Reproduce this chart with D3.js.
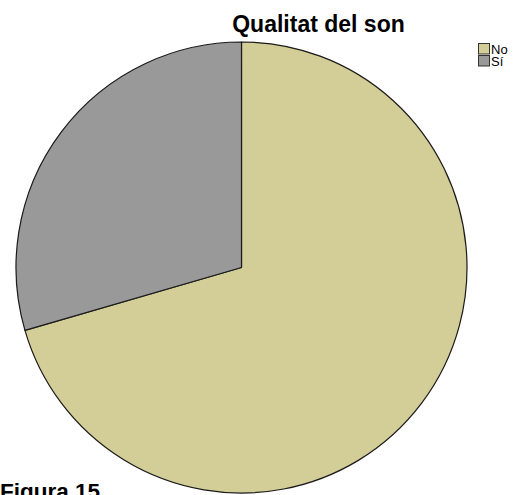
<!DOCTYPE html>
<html>
<head>
<meta charset="utf-8">
<script src="https://cdn.jsdelivr.net/npm/d3@7"></script>
<style>
html,body{margin:0;padding:0;background:#fff;overflow:hidden;}
svg{display:block;}
</style>
</head>
<body>
<script>
const categories = ["No", "Sí"];
const values = [70.5, 29.5];
const colors = ["#D3CE97", "#999999"];
const title = "Qualitat del son";
const caption = "Figura 15";

const W = 521, H = 495;
const cx = 241.5, cy = 267.5, R = 225.5;

const svg = d3.select("body").append("svg").attr("width", W).attr("height", H);

const color = d3.scaleOrdinal().domain(categories).range(colors);
const data = categories.map((c, i) => ({cat: c, value: values[i]}));
const pie = d3.pie().sort(null).value(d => d.value);
const arc = d3.arc().innerRadius(0).outerRadius(R);

svg.append("g").attr("transform", `translate(${cx},${cy})`)
  .selectAll("path").data(pie(data)).join("path")
  .attr("d", arc)
  .attr("fill", d => color(d.data.cat))
  .attr("stroke", "#1a1a1a")
  .attr("stroke-width", 1.2)
  .attr("stroke-linejoin", "round");

svg.append("text").attr("x", 318.5).attr("y", 32)
  .attr("text-anchor", "middle")
  .attr("font-family", "Liberation Sans, Arial, sans-serif")
  .attr("font-weight", "bold").attr("font-size", 23)
  .attr("fill", "#000").text(title);

const lg = svg.append("g").attr("transform", "translate(478,43)");
const items = lg.selectAll("g").data(categories).join("g")
  .attr("transform", (d, i) => `translate(0,${i * 12})`);
items.append("rect").attr("x", 0.5).attr("y", 0.5).attr("width", 11).attr("height", 10.5)
  .attr("fill", d => color(d)).attr("stroke", "#333").attr("stroke-width", 1);
items.append("text").attr("x", 13).attr("y", 10.5)
  .attr("font-family", "Liberation Sans, Arial, sans-serif")
  .attr("font-size", 13).attr("fill", "#000").text(d => d);

svg.append("text").attr("x", 0).attr("y", 498.5)
  .attr("font-family", "Liberation Sans, Arial, sans-serif")
  .attr("font-weight", "bold").attr("font-size", 22.5)
  .attr("fill", "#000").text(caption);
</script>
</body>
</html>
